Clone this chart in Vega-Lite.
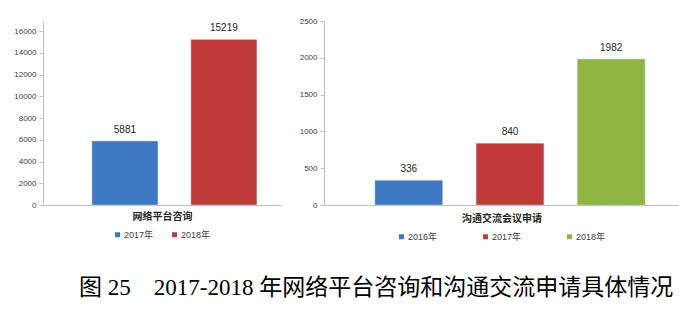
{
  "$schema": "https://vega.github.io/schema/vega-lite/v6.json",
  "autosize": {"type": "pad"},
  "padding": {"left": 13, "top": 17, "right": 0, "bottom": 0},
  "bounds": "flush",
  "spacing": 43,
  "background": "white",
  "title": {
    "text": "图 25\u30002017-2018 年网络平台咨询和沟通交流申请具体情况",
    "orient": "bottom",
    "anchor": "start",
    "frame": "group",
    "dx": 36,
    "offset": 35,
    "font": "Liberation Serif, Noto Sans CJK SC",
    "fontSize": 23,
    "fontWeight": "normal",
    "color": "#000000"
  },
  "config": {
    "view": {"stroke": null},
    "axis": {
      "labelFont": "Liberation Sans, Noto Sans CJK SC",
      "titleFont": "Noto Sans CJK SC",
      "labelColor": "#404040",
      "domainColor": "#BFBFBF",
      "tickColor": "#BFBFBF",
      "grid": false
    },
    "legend": {
      "orient": "bottom",
      "direction": "horizontal",
      "title": null,
      "symbolType": "square",
      "symbolSize": 25,
      "symbolStrokeWidth": 0,
      "labelFont": "Liberation Sans, Noto Sans CJK SC",
      "labelFontSize": 9,
      "labelColor": "#404040",
      "labelOffset": 2,
      "offset": 9,
      "layout": {"bottom": {"anchor": "middle"}}
    }
  },
  "hconcat": [
    {
      "width": 238,
      "height": 184,
      "data": {"values": [
        {"year": "2017年", "value": 5881},
        {"year": "2018年", "value": 15219}
      ]},
      "encoding": {
        "x": {
          "field": "year", "type": "nominal",
          "scale": {"paddingInner": 0.333, "paddingOuter": 0.369, "align": 0.67},
          "axis": {"title": "网络平台咨询", "labels": false, "ticks": false, "titleFontSize": 10, "titleFontWeight": "bold", "titleColor": "#262626", "titlePadding": 6}
        },
        "y": {
          "field": "value", "type": "quantitative",
          "scale": {"domain": [0, 16920], "nice": false},
          "axis": {"title": null, "values": [0, 2000, 4000, 6000, 8000, 10000, 12000, 14000, 16000], "format": "d", "labelFontSize": 8, "tickSize": 4, "labelPadding": 3}
        }
      },
      "layer": [
        {
          "mark": {"type": "bar", "stroke": "#D0D0D0", "strokeWidth": 0.5},
          "encoding": {
            "color": {
              "field": "year", "type": "nominal",
              "scale": {"domain": ["2017年", "2018年"], "range": ["#3E78C2", "#BF3B3B"]},
              "legend": {"columnPadding": 16}
            }
          }
        },
        {
          "mark": {"type": "text", "dy": -11, "font": "Liberation Sans", "fontSize": 10, "color": "#262626"},
          "encoding": {"text": {"field": "value", "type": "quantitative", "format": "d"}}
        }
      ]
    },
    {
      "width": 355,
      "height": 184,
      "data": {"values": [
        {"year": "2016年", "value": 336},
        {"year": "2017年", "value": 840},
        {"year": "2018年", "value": 1982}
      ]},
      "encoding": {
        "x": {
          "field": "year", "type": "nominal",
          "scale": {"paddingInner": 0.33, "paddingOuter": 0.419, "align": 0.6},
          "axis": {"title": "沟通交流会议申请", "labels": false, "ticks": false, "titleFontSize": 10, "titleFontWeight": "bold", "titleColor": "#262626", "titlePadding": 8}
        },
        "y": {
          "field": "value", "type": "quantitative",
          "scale": {"domain": [0, 2500], "nice": false},
          "axis": {"title": null, "values": [0, 500, 1000, 1500, 2000, 2500], "format": "d", "labelFontSize": 8, "tickSize": 4, "labelPadding": 3}
        }
      },
      "layer": [
        {
          "mark": {"type": "bar", "stroke": "#D0D0D0", "strokeWidth": 0.5},
          "encoding": {
            "color": {
              "field": "year", "type": "nominal",
              "scale": {"domain": ["2016年", "2017年", "2018年"], "range": ["#3E78C2", "#BF3B3B", "#8FB544"]},
              "legend": {"columnPadding": 43}
            }
          }
        },
        {
          "mark": {"type": "text", "dy": -11, "font": "Liberation Sans", "fontSize": 10, "color": "#262626"},
          "encoding": {"text": {"field": "value", "type": "quantitative", "format": "d"}}
        }
      ]
    }
  ],
  "resolve": {"scale": {"color": "independent", "x": "independent", "y": "independent"}}
}
